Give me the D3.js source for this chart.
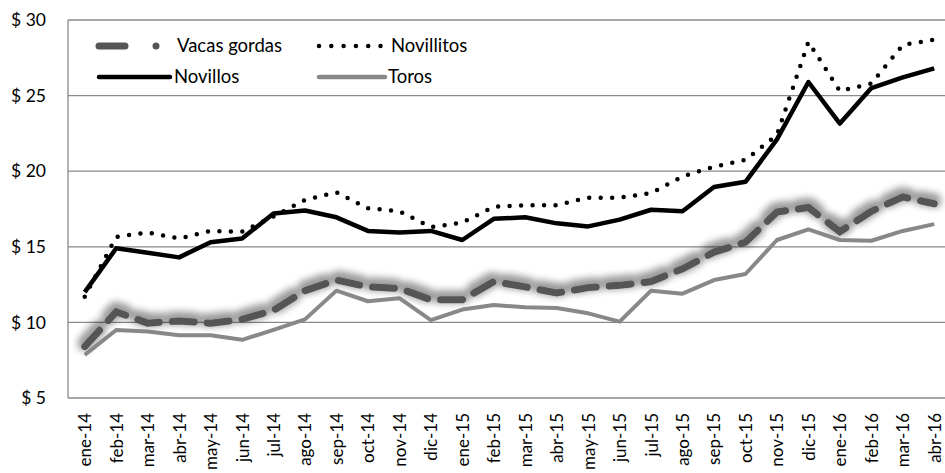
<!DOCTYPE html>
<html><head><meta charset="utf-8">
<script src="https://cdn.jsdelivr.net/npm/d3@7"></script>
<style>body{margin:0;background:#fff}svg{display:block}text{font-family:Lato,"Open Sans",sans-serif;fill:#000}</style>
</head><body><svg id="c" width="945" height="473"></svg>
<script>
const categories=["ene-14","feb-14","mar-14","abr-14","may-14","jun-14","jul-14","ago-14","sep-14","oct-14","nov-14","dic-14","ene-15","feb-15","mar-15","abr-15","may-15","jun-15","jul-15","ago-15","sep-15","oct-15","nov-15","dic-15","ene-16","feb-16","mar-16","abr-16"];
const vacasGordas=[8.4,10.7,9.95,10.1,9.95,10.2,10.8,12.1,12.8,12.35,12.25,11.5,11.5,12.7,12.35,11.95,12.3,12.45,12.7,13.55,14.65,15.3,17.3,17.6,16.0,17.35,18.3,17.85];
const novillitos=[11.7,15.65,15.95,15.55,16.05,16.0,17.0,18.1,18.6,17.55,17.35,16.3,16.6,17.65,17.75,17.75,18.25,18.25,18.55,19.65,20.3,20.75,22.4,28.55,25.3,25.8,28.35,28.7];
const novillos=[12.0,14.9,14.6,14.3,15.3,15.55,17.2,17.4,16.95,16.05,15.95,16.05,15.45,16.85,16.95,16.55,16.35,16.8,17.45,17.35,18.95,19.3,22.1,25.9,23.15,25.5,26.2,26.8];
const toros=[7.85,9.5,9.4,9.15,9.15,8.85,9.5,10.2,12.1,11.4,11.6,10.15,10.85,11.15,11.0,10.95,10.6,10.05,12.1,11.9,12.8,13.2,15.45,16.15,15.45,15.4,16.05,16.5];
const yTicks=[5,10,15,20,25,30];

const svg=d3.select("#c");
const x=d3.scalePoint().domain(categories).range([69,950]).padding(0.5);
const y=d3.scaleLinear().domain([5,30]).range([398,20]);

const defs=svg.append("defs");
const f=defs.append("filter").attr("id","glow").attr("x","-5%").attr("y","-30%").attr("width","110%").attr("height","160%");
f.append("feMorphology").attr("in","SourceAlpha").attr("operator","dilate").attr("radius",2.5).attr("result","d");
f.append("feGaussianBlur").attr("in","d").attr("stdDeviation",3.5).attr("result","b");
f.append("feOffset").attr("in","b").attr("dx",0).attr("dy",-3).attr("result","o");
f.append("feComponentTransfer").attr("in","o").attr("result","t").append("feFuncA").attr("type","linear").attr("slope",0.4);
const m=f.append("feMerge");m.append("feMergeNode").attr("in","t");m.append("feMergeNode").attr("in","SourceGraphic");

// gridlines
svg.append("g").selectAll("line").data(yTicks).join("line")
 .attr("x1",68).attr("x2",945).attr("y1",d=>y(d)).attr("y2",d=>y(d))
 .attr("stroke","#8a8a8a").attr("stroke-width",1.3);
svg.append("line").attr("x1",68).attr("x2",68).attr("y1",y(30)).attr("y2",y(5)).attr("stroke","#8a8a8a").attr("stroke-width",1.3);

// y labels
const yAxis=d3.axisLeft(y).tickValues(yTicks).tickSize(0).tickPadding(22).tickFormat(d=>"$ "+d);
const ya=svg.append("g").attr("transform","translate(68,0)").call(yAxis);
ya.select(".domain").remove();
ya.selectAll("text").style("font-family","Lato,'Open Sans',sans-serif").style("font-size","17.5px").attr("fill","#000");

// x labels
const xAxis=d3.axisBottom(x).tickSize(0).tickPadding(0);
const xa=svg.append("g").attr("transform","translate(0,398)").call(xAxis);
xa.select(".domain").remove();
xa.selectAll("text").style("font-family","Lato,'Open Sans',sans-serif").style("font-size","17px").attr("fill","#000")
 .attr("transform","rotate(-90)").attr("x",-15).attr("y",0).attr("dy","0.35em").attr("text-anchor","end");

const line=d3.line().x((d,i)=>x(categories[i])).y(d=>y(d));
const plot=svg.append("g");
plot.append("path").datum(vacasGordas).attr("d",line).attr("fill","none").attr("stroke","#555").attr("stroke-width",7)
 .attr("stroke-dasharray","22 13").attr("stroke-linecap","round").attr("filter","url(#glow)");
plot.append("path").datum(toros).attr("d",line).attr("fill","none").attr("stroke","#888").attr("stroke-width",4).attr("stroke-linejoin","round");
plot.append("path").datum(novillos).attr("d",line).attr("fill","none").attr("stroke","#000").attr("stroke-width",4.5).attr("stroke-linejoin","round");
plot.append("path").datum(novillitos).attr("d",line).attr("fill","none").attr("stroke","#000").attr("stroke-width",4.5)
 .attr("stroke-dasharray","0 11.5").attr("stroke-linecap","round");

// legend
const lg=svg.append("g");
const fs="18.5px";
lg.append("line").attr("x1",99).attr("x2",125).attr("y1",46).attr("y2",46).attr("stroke","#555").attr("stroke-width",7).attr("stroke-linecap","round");
lg.append("circle").attr("cx",156).attr("cy",46).attr("r",3.5).attr("fill","#555");
lg.append("text").attr("x",177).attr("y",46).attr("dy","0.35em").style("font-size",fs).text("Vacas gordas");
lg.append("line").attr("x1",319).attr("x2",381).attr("y1",46).attr("y2",46).attr("stroke","#000").attr("stroke-width",4.5).attr("stroke-dasharray","0 12.3").attr("stroke-linecap","round");
lg.append("text").attr("x",391).attr("y",46).attr("dy","0.35em").style("font-size",fs).text("Novillitos");
lg.append("line").attr("x1",99).attr("x2",170).attr("y1",77).attr("y2",77).attr("stroke","#000").attr("stroke-width",4.5).attr("stroke-linecap","round");
lg.append("text").attr("x",174).attr("y",77).attr("dy","0.35em").style("font-size",fs).text("Novillos");
lg.append("line").attr("x1",319).attr("x2",385).attr("y1",77).attr("y2",77).attr("stroke","#888").attr("stroke-width",4.5).attr("stroke-linecap","round");
lg.append("text").attr("x",388).attr("y",77).attr("dy","0.35em").style("font-size",fs).text("Toros");
</script></body></html>
